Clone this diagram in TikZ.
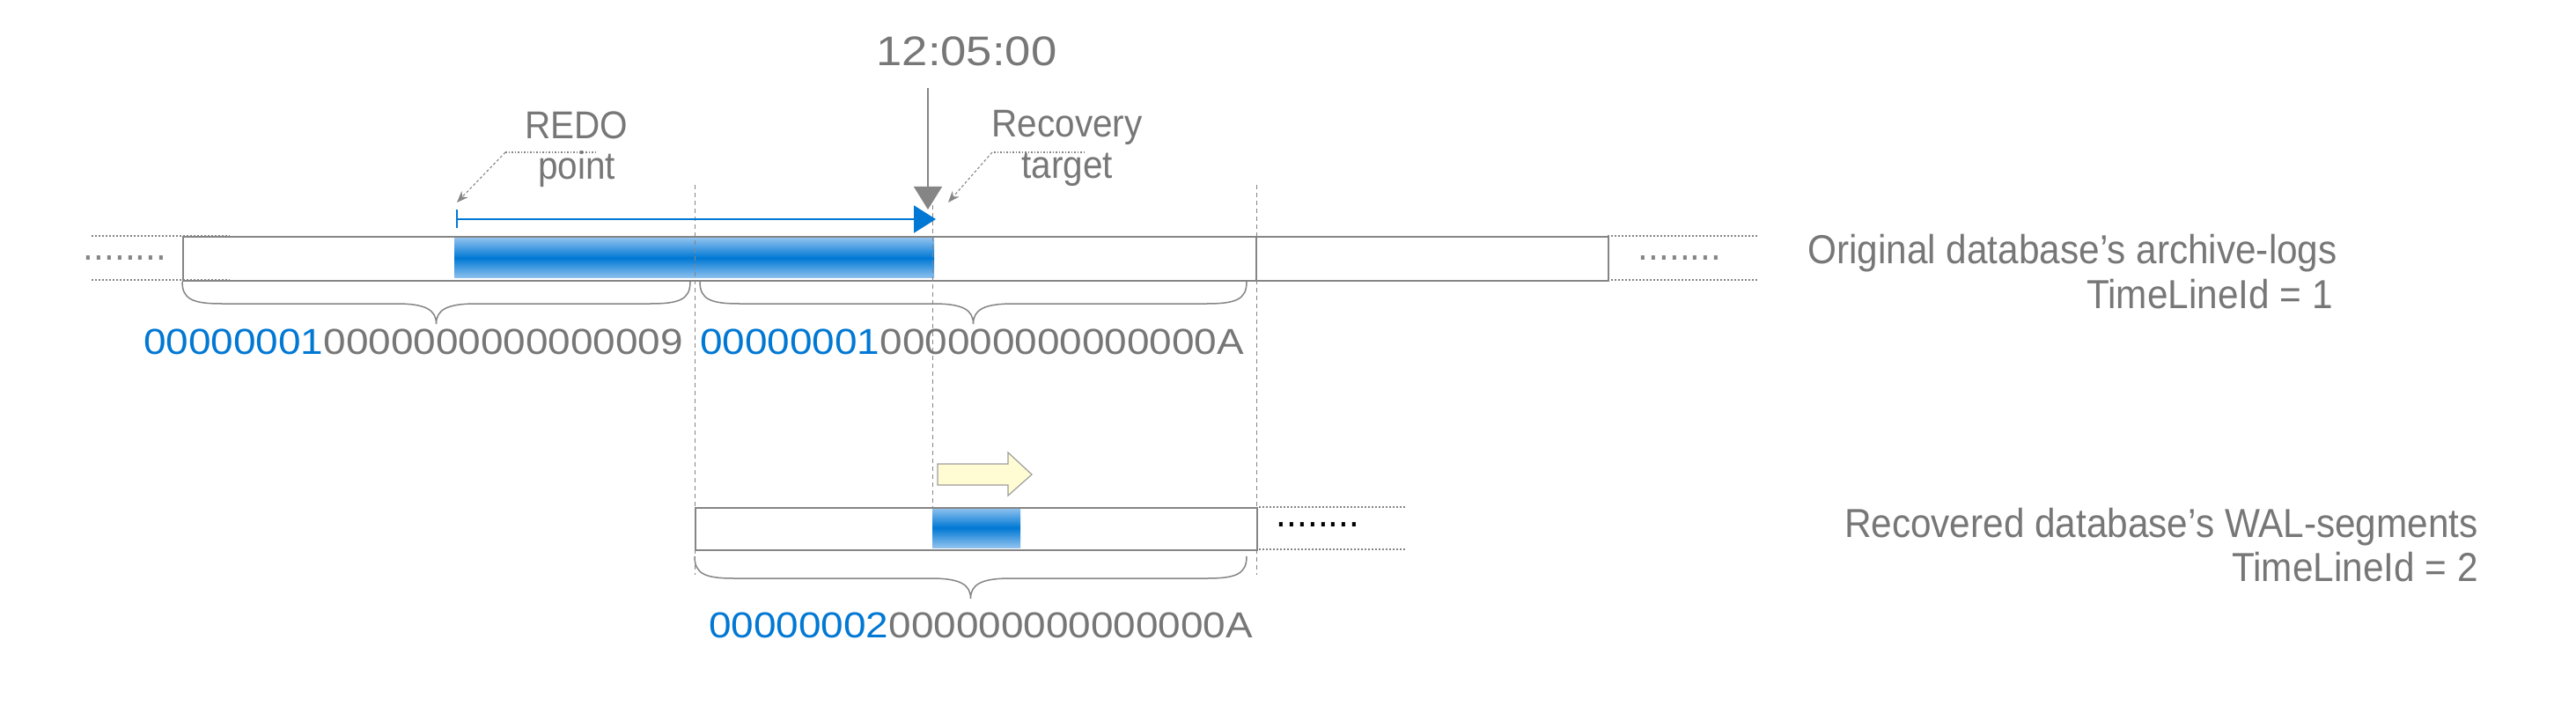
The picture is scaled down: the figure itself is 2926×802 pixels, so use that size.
\documentclass[tikz,border=0pt]{standalone}
\usepackage{fontspec}
\setmainfont{Liberation Sans}
\newfontfamily\txtfont[FakeStretch=0.92]{Liberation Sans}
\newfontfamily\numfont[FakeStretch=1.12]{Liberation Sans}
\usetikzlibrary{arrows.meta,calc}
\definecolor{tgray}{HTML}{777777}
\definecolor{lgray}{HTML}{858585}
\definecolor{wblue}{HTML}{0078D4}
\definecolor{wblueL}{HTML}{90C2EF}
\definecolor{ayellow}{HTML}{FFFCD4}
\newcommand\wbrace[4]{%
  \draw[brc] (#1,#3) .. controls (#1,#3+20) and (#1+12,#3+25) .. (#1+45,#3+25)
    -- (#4-45,#3+25) .. controls (#4-12,#3+25) and (#4,#3+32) .. (#4,#3+48)
    .. controls (#4,#3+32) and (#4+12,#3+25) .. (#4+45,#3+25)
    -- (#2-45,#3+25) .. controls (#2-12,#3+25) and (#2,#3+20) .. (#2,#3);}
\begin{document}
\begin{tikzpicture}[x=1pt,y=-1pt,
  txt/.style={inner sep=0pt, text=tgray, font=\txtfont\fontsize{46}{55}\selectfont},
  callout/.style={inner sep=0pt, text=tgray, font=\txtfont\fontsize{44}{52}\selectfont},
  num/.style={inner sep=0pt, text=tgray, font=\numfont\fontsize{41}{50}\selectfont},
  dots/.style={inner sep=0pt, font=\txtfont\fontsize{46}{55}\selectfont},
  barbox/.style={draw=lgray, line width=1.6pt, inner sep=0pt, anchor=north west},
  dotline/.style={draw=lgray, line width=1.1pt, dash pattern=on 1.6pt off 2.4pt},
  vdash/.style={draw=lgray, line width=1pt, dash pattern=on 5pt off 4pt},
  brc/.style={draw=lgray, line width=1.5pt},
  calloutline/.style={draw=lgray, line width=1.1pt, dash pattern=on 3pt off 2.5pt},
  calloutdot/.style={draw=lgray, line width=1.1pt, dash pattern=on 1.5pt off 2pt}
]
\fill[white] (0,0) rectangle (2926,802);
\useasboundingbox (0,0) rectangle (2926,802);

% ---- gradient fills ----
\shade[top color=wblueL, bottom color=wblueL, middle color=wblue] (516,270) rectangle (1061,316);
\shade[top color=wblueL, bottom color=wblueL, middle color=wblue] (1059,577) rectangle (1159,622);

% ---- bars ----
\node[barbox, minimum width=1619pt, minimum height=50pt] (bar1) at (207,268) {};
\draw[draw=lgray, line width=1.6pt] (1427,268) coordinate (divT) -- (1427,318) coordinate (divB);
\node[barbox, minimum width=638pt, minimum height=48pt] (bar2) at (789,576) {};

% ---- dotted extensions ----
\draw[dotline] (104,268) -- (261,268);
\draw[dotline] (104,318) -- (261,318);
\draw[dotline] (1826,268) -- (1997,268);
\draw[dotline] (1826,318) -- (1997,318);
\draw[dotline] (1430,576) -- (1596,576);
\draw[dotline] (1430,624) -- (1596,624);
\node[dots, text=lgray] (dl) at (142,293) {........};
\node[dots, text=lgray] (dr) at (1908,293) {........};
\node[dots, text=black] (dlow) at (1497,596) {........};

% ---- vertical dashed guides ----
\draw[vdash] (789,210) -- (789,653);
\draw[vdash] (1059,233) -- (1059,576);
\draw[vdash] (1427,210) -- (1427,653);

% ---- time arrow ----
\node[inner sep=0pt, text=tgray, font=\numfont\fontsize{47}{56}\selectfont, anchor=base] (time) at (1098,75) {12:05:00};
\coordinate (tTop) at (1054,100);
\coordinate (tTip) at (1054,238);
\draw[lgray, line width=1.4pt, -{Triangle[width=32pt,length=26pt]}] (tTop) -- (tTip);

% ---- redo range arrow ----
\coordinate (rS) at (518,249);
\coordinate (rE) at (1063,249);
\draw[wblue, line width=2pt, {Bar[width=21pt,line width=2pt]}-{Triangle[width=31pt,length=25pt]}] (rS) -- (rE);

% ---- callouts ----
\node[callout, anchor=base] (redo) at (655,158) {REDO};
\node[callout, anchor=base] (point) at (655,204) {point};
\coordinate (c1a) at (677,173);
\coordinate (c1b) at (574,173);
\coordinate (c1c) at (519,230);
\draw[calloutdot] (c1a) -- (c1b);
\draw[calloutline, -{Stealth[length=13pt,width=10pt]}] (c1b) -- (c1c);

\node[callout, anchor=base] (recov) at (1212,156) {Recovery};
\node[callout, anchor=base] (target) at (1212,203) {target};
\coordinate (c2a) at (1232,173);
\coordinate (c2b) at (1127,173);
\coordinate (c2c) at (1077,230);
\draw[calloutdot] (c2a) -- (c2b);
\draw[calloutline, -{Stealth[length=13pt,width=10pt]}] (c2b) -- (c2c);

% ---- braces ----
\wbrace{207}{784}{320}{495.5}
\wbrace{795}{1416}{320}{1105.5}
\wbrace{789}{1416}{632}{1102.5}

% ---- segment names ----
\node[num, anchor=base west] (seg9) at (163,402) {\textcolor{wblue}{00000001}0000000000000009};
\node[num, anchor=base west] (segA) at (795,402) {\textcolor{wblue}{00000001}000000000000000A};
\node[num, anchor=base west] (seg2A) at (805,724) {\textcolor{wblue}{00000002}000000000000000A};

% ---- yellow arrow ----
\draw[fill=ayellow, draw=lgray!80, line width=1.2pt] (1065,527) -- (1145,527) -- (1145,514) -- (1172,539) -- (1145,563) -- (1145,551) -- (1065,551) -- cycle;

% ---- right labels ----
\node[txt, anchor=base east] (orig) at (2655,300) {Original database’s archive-logs};
\node[txt, anchor=base east] (tl1) at (2650,350) {TimeLineId = 1};
\node[txt, anchor=base east] (recd) at (2815,610) {Recovered database’s WAL-segments};
\node[txt, anchor=base east] (tl2) at (2815,660) {TimeLineId = 2};
\end{tikzpicture}
\end{document}
